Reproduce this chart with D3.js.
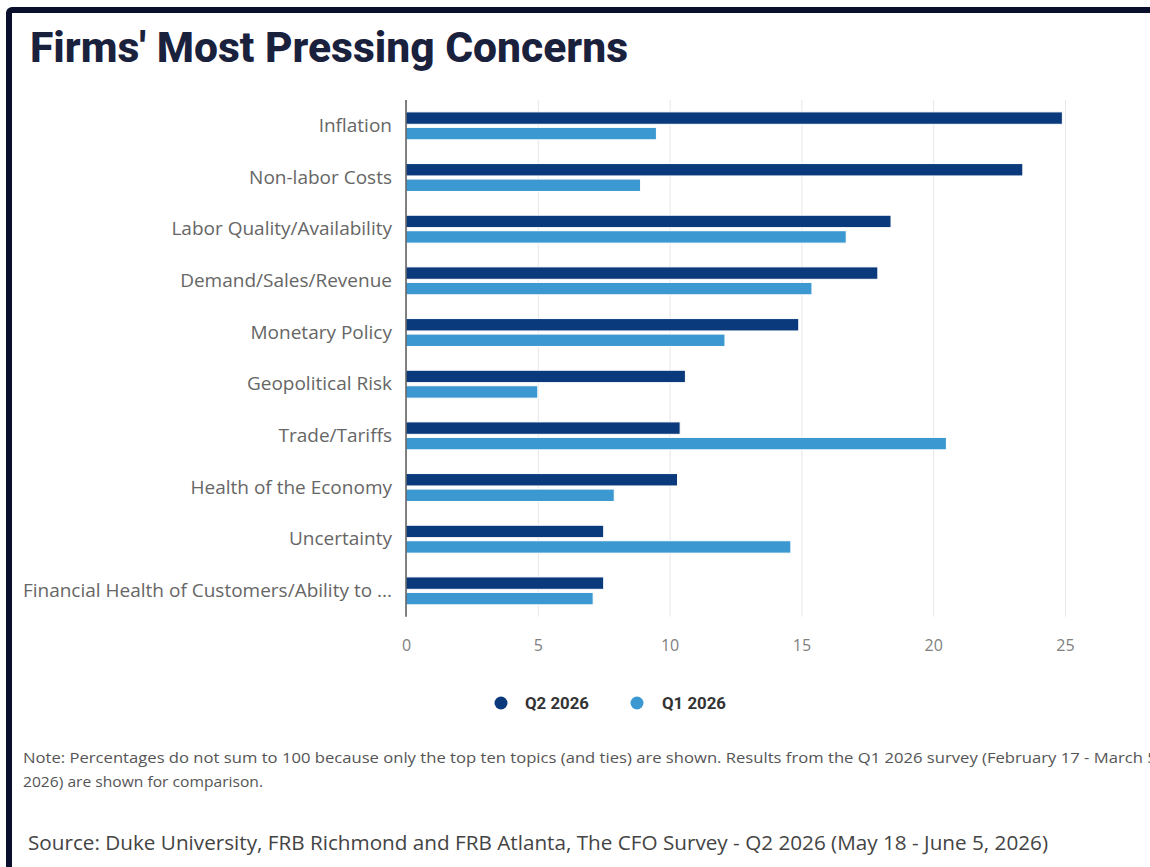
<!DOCTYPE html>
<html>
<head>
<meta charset="utf-8">
<script src="https://cdn.jsdelivr.net/npm/d3@7"></script>
<style>
  html, body { margin: 0; padding: 0; background: #fff; overflow: hidden; }
  svg { display: block; }
</style>
</head>
<body>
<svg id="chart" width="1150" height="867"></svg>
<script>
const categories = [
  "Inflation",
  "Non-labor Costs",
  "Labor Quality/Availability",
  "Demand/Sales/Revenue",
  "Monetary Policy",
  "Geopolitical Risk",
  "Trade/Tariffs",
  "Health of the Economy",
  "Uncertainty",
  "Financial Health of Customers/Ability to ..."
];
const seriesNames = ["Q2 2026", "Q1 2026"];
const q2Values = [24.9, 23.4, 18.4, 17.9, 14.9, 10.6, 10.4, 10.3, 7.5, 7.5];
const q1Values = [9.5, 8.9, 16.7, 15.4, 12.1, 5.0, 20.5, 7.9, 14.6, 7.1];
const xTicks = [0, 5, 10, 15, 20, 25];
const titleText = "Firms' Most Pressing Concerns";
const noteLine1 = "Note: Percentages do not sum to 100 because only the top ten topics (and ties) are shown. Results from the Q1 2026 survey (February 17 - March 5,";
const noteLine2 = "2026) are shown for comparison.";
const sourceText = "Source: Duke University, FRB Richmond and FRB Atlanta, The CFO Survey - Q2 2026 (May 18 - June 5, 2026)";

const colors = ["#0b3a7c", "#3b98d0"];
const svg = d3.select("#chart");

// frame
svg.append("rect")
  .attr("x", 9).attr("y", 10).attr("width", 1300).attr("height", 1000)
  .attr("rx", 3)
  .attr("fill", "none").attr("stroke", "#0a0f2c").attr("stroke-width", 6);

// title
svg.append("text")
  .attr("x", 30).attr("y", 62)
  .attr("font-family", "Roboto, 'Open Sans', sans-serif")
  .attr("font-weight", 800).attr("font-size", 42)
  .attr("fill", "#1a213d")
  .attr("textLength", 598).attr("lengthAdjust", "spacingAndGlyphs")
  .text(titleText);

const plotTop = 100, plotBottom = 616.7, plotLeft = 406, plotRight = 1065;

const x = d3.scaleLinear().domain([0, 25]).range([plotLeft, plotRight]);
const y = d3.scaleBand().domain(categories).range([plotTop, plotBottom])
  .paddingInner(0.4).paddingOuter(0.2);
const ySub = d3.scaleBand().domain(seriesNames).range([0, y.bandwidth()])
  .paddingInner(0.2).paddingOuter(0.1);

// gridlines
const xAxisGrid = d3.axisBottom(x).tickValues(xTicks).tickSize(-(plotBottom - plotTop)).tickFormat("");
const grid = svg.append("g").attr("transform", `translate(0,${plotBottom})`).call(xAxisGrid);
grid.select(".domain").remove();
grid.selectAll("line").attr("stroke", "#e6e6e6").attr("stroke-width", 1);

// x tick labels
const xAxis = d3.axisBottom(x).tickValues(xTicks).tickSize(0).tickPadding(0).tickFormat(d3.format("d"));
const xa = svg.append("g").attr("transform", `translate(0,${plotBottom + 34.5})`).call(xAxis);
xa.select(".domain").remove();
xa.selectAll("text")
  .attr("font-family", "'Open Sans', sans-serif").attr("font-size", 16)
  .attr("fill", "#808080").attr("dy", "0");

// bars
const data = categories.map((c, i) => ({ cat: c, vals: [q2Values[i], q1Values[i]] }));
const groups = svg.append("g").selectAll("g").data(data).join("g")
  .attr("transform", d => `translate(0,${y(d.cat)})`);
groups.selectAll("rect")
  .data(d => d.vals.map((v, j) => ({ name: seriesNames[j], v, j })))
  .join("rect")
  .attr("x", x(0))
  .attr("y", d => ySub(d.name))
  .attr("width", d => x(d.v) - x(0))
  .attr("height", ySub.bandwidth())
  .attr("fill", d => colors[d.j])
  .attr("stroke", "#fff").attr("stroke-width", 1);

// y axis
const yAxis = d3.axisLeft(y).tickSize(0).tickPadding(14);
const ya = svg.append("g").attr("transform", `translate(${plotLeft},0)`).call(yAxis);
ya.select(".domain").remove();
ya.selectAll("text")
  .attr("font-family", "'Open Sans', sans-serif").attr("font-size", 19)
  .attr("fill", "#666");
svg.append("line")
  .attr("x1", plotLeft).attr("x2", plotLeft)
  .attr("y1", plotTop).attr("y2", plotBottom)
  .attr("stroke", "#333").attr("stroke-width", 1.2);

// legend
const legendItems = [
  { name: seriesNames[0], cx: 501, tx: 525 },
  { name: seriesNames[1], cx: 637, tx: 662 }
];
const lg = svg.append("g");
legendItems.forEach((it, i) => {
  lg.append("circle").attr("cx", it.cx).attr("cy", 703).attr("r", 6.5).attr("fill", colors[i]);
  lg.append("text").attr("x", it.tx).attr("y", 709)
    .attr("font-family", "Roboto, Arial, sans-serif").attr("font-weight", 700)
    .attr("font-size", 16).attr("fill", "#333")
    .attr("textLength", 64).attr("lengthAdjust", "spacingAndGlyphs")
    .text(it.name);
});

// note & source
svg.append("text").attr("x", 23).attr("y", 763)
  .attr("font-family", "'Open Sans', sans-serif").attr("font-size", 14.5).attr("fill", "#555")
  .attr("textLength", 1138).attr("lengthAdjust", "spacingAndGlyphs")
  .text(noteLine1);
svg.append("text").attr("x", 23).attr("y", 787)
  .attr("font-family", "'Open Sans', sans-serif").attr("font-size", 14.5).attr("fill", "#555")
  .attr("textLength", 240).attr("lengthAdjust", "spacingAndGlyphs")
  .text(noteLine2);
svg.append("text").attr("x", 28).attr("y", 850)
  .attr("font-family", "'Open Sans', sans-serif").attr("font-size", 20).attr("fill", "#444")
  .attr("textLength", 1020).attr("lengthAdjust", "spacingAndGlyphs")
  .text(sourceText);
</script>
</body>
</html>
